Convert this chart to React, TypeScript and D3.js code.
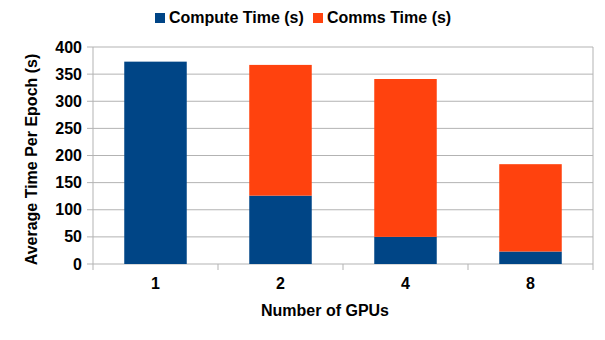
import React from "react";
import * as d3 from "d3";

const categories = ["1", "2", "4", "8"];
const computeTime = [373, 126, 50, 23];
const commsTime = [0, 241, 291, 161];
const yTicks = [0, 50, 100, 150, 200, 250, 300, 350, 400];
const seriesNames = ["Compute Time (s)", "Comms Time (s)"];
const colors = ["#004586", "#ff420e"];

export default function App() {
  const W = 605, H = 340;
  const left = 93, right = 593, top = 47, bottom = 264;
  const x = d3.scaleBand<string>().domain(categories).range([left, right]).paddingInner(0.5).paddingOuter(0.25);
  const xb = d3.scaleBand<string>().domain(categories).range([left, right]);
  const y = d3.scaleLinear().domain([0, 400]).range([bottom, top]);
  const font = "'Liberation Sans', Arial, sans-serif";
  const fs = 16;
  const stacked = d3.stack<any>().keys(["c", "m"])(categories.map((c, i) => ({ c: computeTime[i], m: commsTime[i], cat: c })));
  return (
    <svg width={W} height={H} style={{ position: "absolute", left: 0, top: 0 }} fontFamily={font}>
      <rect width={W} height={H} fill="#fff" />
      {yTicks.map((t) => (
        <g key={t}>
          <line x1={left - 6} x2={right} y1={y(t)} y2={y(t)} stroke="#b3b3b3" strokeWidth={1} />
          <text x={left - 11} y={y(t)} dy="0.35em" textAnchor="end" fontSize={fs} fontWeight="bold" fill="#000">{t}</text>
        </g>
      ))}
      <line x1={left} x2={left} y1={top} y2={bottom} stroke="#b3b3b3" />
      <line x1={right} x2={right} y1={top} y2={bottom + 6} stroke="#b3b3b3" />
      {categories.map((c) => (
        <line key={c} x1={xb(c)!} x2={xb(c)!} y1={bottom} y2={bottom + 6} stroke="#b3b3b3" />
      ))}
      {stacked.map((s, si) =>
        s.map((d, i) =>
          d[1] - d[0] > 0 ? (
            <rect key={si + "-" + i} x={x(categories[i])!} width={x.bandwidth()} y={y(d[1])} height={y(d[0]) - y(d[1])} fill={colors[si]} />
          ) : null
        )
      )}
      {categories.map((c) => (
        <text key={c} x={x(c)! + x.bandwidth() / 2} y={289} textAnchor="middle" fontSize={fs} fontWeight="bold">{c}</text>
      ))}
      <text x={325} y={316} textAnchor="middle" fontSize={fs} fontWeight="bold">Number of GPUs</text>
      <text transform={`translate(37,${(top + bottom) / 2 + 4}) rotate(-90)`} textAnchor="middle" fontSize={fs} fontWeight="bold">Average Time Per Epoch (s)</text>
      <g>
        <rect x={155} y={13} width={10} height={10} fill={colors[0]} />
        <text x={169} y={23} fontSize={fs} fontWeight="bold">{seriesNames[0]}</text>
        <rect x={313} y={13} width={10} height={10} fill={colors[1]} />
        <text x={327} y={23} fontSize={fs} fontWeight="bold">{seriesNames[1]}</text>
      </g>
    </svg>
  );
}
